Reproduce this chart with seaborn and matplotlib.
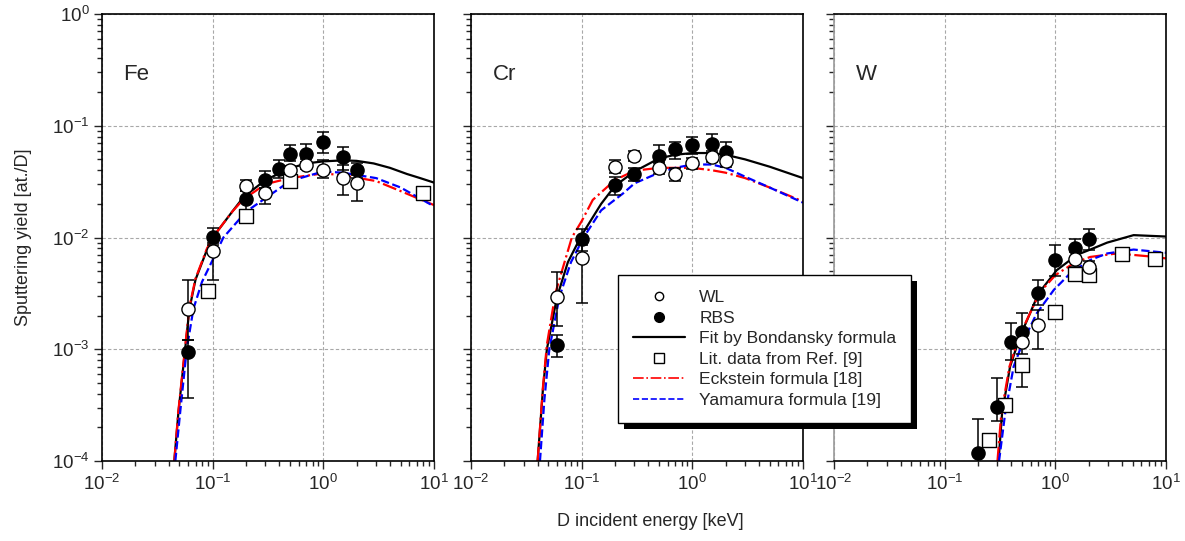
import numpy as np
import pandas as pd
import seaborn as sns
import matplotlib.pyplot as plt
from matplotlib.lines import Line2D
from matplotlib.patches import Rectangle
from matplotlib.ticker import LogLocator, NullFormatter

sns.set_style("ticks")
plt.rcParams["font.family"] = ["Liberation Sans", "DejaVu Sans"]
plt.rcParams["font.size"] = 13

# ---- Fe ----
fe_E_wl = [0.06, 0.1, 0.2, 0.3, 0.5, 0.7, 1.0, 1.5, 2.0]
fe_Y_wl = [2.3e-3, 7.6e-3, 2.9e-2, 2.5e-2, 4.0e-2, 4.5e-2, 4.0e-2, 3.4e-2, 3.05e-2]
fe_lo_wl = [1.2e-3, 4.2e-3, 2.6e-2, 2.0e-2, 3.6e-2, 4.1e-2, 3.4e-2, 2.4e-2, 2.1e-2]
fe_hi_wl = [4.2e-3, 9.0e-3, 3.3e-2, 2.8e-2, 4.4e-2, 5.0e-2, 4.9e-2, 4.5e-2, 3.6e-2]
fe_E_rbs = [0.06, 0.1, 0.2, 0.3, 0.4, 0.5, 0.7, 1.0, 1.5, 2.0]
fe_Y_rbs = [9.4e-4, 1.02e-2, 2.2e-2, 3.3e-2, 4.1e-2, 5.6e-2, 5.6e-2, 7.2e-2, 5.3e-2, 4.0e-2]
fe_lo_rbs = [3.7e-4, 8.5e-3, 1.75e-2, 2.8e-2, 3.4e-2, 4.8e-2, 4.7e-2, 5.7e-2, 4.0e-2, 3.4e-2]
fe_hi_rbs = [1.2e-3, 1.22e-2, 2.6e-2, 3.9e-2, 4.9e-2, 6.7e-2, 6.8e-2, 8.8e-2, 6.4e-2, 4.6e-2]
fe_E_lit = [0.09, 0.2, 0.5, 8.0]
fe_Y_lit = [3.3e-3, 1.56e-2, 3.2e-2, 2.5e-2]
fe_lo_lit = [3.3e-3, 1.56e-2, 3.2e-2, 2.5e-2]
fe_hi_lit = [3.3e-3, 1.56e-2, 3.2e-2, 2.5e-2]
fe_E_fit = [0.045, 0.049, 0.0564, 0.0617, 0.07, 0.0885, 0.1, 0.15, 0.19, 0.3, 0.5, 0.7, 1.0, 1.5, 2.0, 2.85, 4.0, 5.7, 7.5, 10]
fe_Y_fit = [1e-4, 2.7e-4, 1e-3, 2.3e-3, 4.2e-3, 7.7e-3, 1.0e-2, 1.7e-2, 2.3e-2, 3.27e-2, 4.16e-2, 4.6e-2, 4.8e-2, 4.9e-2, 4.85e-2, 4.6e-2, 4.2e-2, 3.7e-2, 3.4e-2, 3.1e-2]
fe_E_eck = [0.045, 0.049, 0.0564, 0.0617, 0.07, 0.0885, 0.1, 0.15, 0.19, 0.3, 0.5, 1.0, 1.5, 3.0, 5.0, 10]
fe_Y_eck = [1e-4, 2.8e-4, 1.05e-3, 2.4e-3, 4.3e-3, 7.9e-3, 1.0e-2, 1.7e-2, 2.2e-2, 3.0e-2, 3.4e-2, 3.75e-2, 3.6e-2, 3.2e-2, 2.6e-2, 1.95e-2]
fe_E_yam = [0.046, 0.0508, 0.0583, 0.067, 0.08, 0.1, 0.125, 0.2, 0.33, 0.5, 1.0, 1.5, 3.0, 5.0, 10]
fe_Y_yam = [1e-4, 2.7e-4, 1e-3, 2.3e-3, 4.0e-3, 6.3e-3, 1e-2, 1.7e-2, 2.4e-2, 3.2e-2, 3.9e-2, 3.8e-2, 3.4e-2, 2.8e-2, 1.9e-2]

# ---- Cr ----
cr_E_wl = [0.06, 0.1, 0.2, 0.3, 0.5, 0.7, 1.0, 1.5, 2.0]
cr_Y_wl = [2.95e-3, 6.5e-3, 4.3e-2, 5.4e-2, 4.2e-2, 3.7e-2, 4.6e-2, 5.3e-2, 4.8e-2]
cr_lo_wl = [1.6e-3, 2.6e-3, 3.8e-2, 4.8e-2, 3.7e-2, 3.2e-2, 4.1e-2, 4.7e-2, 4.3e-2]
cr_hi_wl = [4.9e-3, 8.5e-3, 4.9e-2, 6.0e-2, 4.7e-2, 4.2e-2, 5.1e-2, 5.9e-2, 5.3e-2]
cr_E_rbs = [0.06, 0.1, 0.2, 0.3, 0.5, 0.7, 1.0, 1.5, 2.0]
cr_Y_rbs = [1.09e-3, 9.6e-3, 2.95e-2, 3.7e-2, 5.4e-2, 6.15e-2, 6.7e-2, 6.9e-2, 5.8e-2]
cr_lo_rbs = [8.5e-4, 7.5e-3, 2.4e-2, 3.2e-2, 4.6e-2, 5.0e-2, 5.6e-2, 5.7e-2, 4.6e-2]
cr_hi_rbs = [1.35e-3, 1.2e-2, 3.5e-2, 4.2e-2, 6.7e-2, 7.2e-2, 8.0e-2, 8.4e-2, 7.1e-2]
cr_E_fit = [0.04, 0.0446, 0.0485, 0.0597, 0.075, 0.1, 0.15, 0.2, 0.3, 0.5, 0.7, 1.0, 1.5, 2.0, 3.0, 5.0, 10]
cr_Y_fit = [1e-4, 4.3e-4, 1e-3, 2.9e-3, 6e-3, 1.05e-2, 2.0e-2, 2.9e-2, 3.9e-2, 5.1e-2, 5.5e-2, 5.7e-2, 5.7e-2, 5.5e-2, 5.0e-2, 4.3e-2, 3.4e-2]
cr_E_eck = [0.04, 0.0446, 0.0485, 0.058, 0.0815, 0.1, 0.126, 0.2, 0.3, 0.5, 1.0, 1.5, 2.0, 3.0, 5.0, 10]
cr_Y_eck = [1e-4, 4.5e-4, 1.1e-3, 3.2e-3, 1e-2, 1.4e-2, 2.17e-2, 3.27e-2, 3.96e-2, 4.2e-2, 4.2e-2, 4.0e-2, 3.8e-2, 3.4e-2, 2.8e-2, 2.1e-2]
cr_E_yam = [0.042, 0.046, 0.051, 0.063, 0.08, 0.104, 0.15, 0.239, 0.3, 0.5, 0.7, 1.0, 1.5, 2.0, 3.0, 5.0, 10]
cr_Y_yam = [1e-4, 3.5e-4, 1e-3, 2.95e-3, 6e-3, 1e-2, 1.75e-2, 2.5e-2, 3.05e-2, 3.8e-2, 4.2e-2, 4.5e-2, 4.5e-2, 4.2e-2, 3.5e-2, 2.8e-2, 2.05e-2]

# ---- W ----
w_E_wl = [0.5, 0.7, 1.5, 2.0]
w_Y_wl = [1.15e-3, 1.65e-3, 6.4e-3, 5.4e-3]
w_lo_wl = [9e-4, 1.0e-3, 5.5e-3, 4.6e-3]
w_hi_wl = [1.4e-3, 2.25e-3, 7.4e-3, 6.2e-3]
w_E_rbs = [0.2, 0.3, 0.4, 0.5, 0.7, 1.0, 1.5, 2.0]
w_Y_rbs = [1.17e-4, 3.06e-4, 1.17e-3, 1.44e-3, 3.17e-3, 6.3e-3, 8.0e-3, 9.6e-3]
w_lo_rbs = [5e-5, 2.3e-4, 8e-4, 1.1e-3, 2.5e-3, 4.5e-3, 6.5e-3, 7.7e-3]
w_hi_rbs = [2.36e-4, 5.5e-4, 1.7e-3, 2.1e-3, 4.2e-3, 8.6e-3, 9.6e-3, 1.18e-2]
w_E_lit = [0.25, 0.35, 0.5, 1.0, 1.5, 2.0, 4.0, 8.0]
w_Y_lit = [1.54e-4, 3.2e-4, 7.2e-4, 2.17e-3, 4.7e-3, 4.6e-3, 7.1e-3, 6.4e-3]
w_lo_lit = [1.54e-4, 3.2e-4, 4.6e-4, 2.17e-3, 4.7e-3, 4.6e-3, 7.1e-3, 6.4e-3]
w_hi_lit = [1.54e-4, 3.2e-4, 7.2e-4, 2.17e-3, 4.7e-3, 4.6e-3, 7.1e-3, 6.4e-3]
w_E_fit = [0.307, 0.33, 0.39, 0.48, 0.706, 1.03, 1.57, 2.07, 2.94, 5.1, 10]
w_Y_fit = [1e-4, 2.67e-4, 7e-4, 1.3e-3, 3.17e-3, 5.1e-3, 7.0e-3, 7.8e-3, 9.0e-3, 1.05e-2, 1.02e-2]
w_E_eck = [0.3, 0.325, 0.385, 0.47, 0.7, 0.78, 1.0, 1.47, 2.07, 3.6, 6.8, 10]
w_Y_eck = [1e-4, 2.67e-4, 7e-4, 1.3e-3, 3.0e-3, 3.5e-3, 4.6e-3, 5.9e-3, 6.7e-3, 7.2e-3, 6.8e-3, 6.5e-3]
w_E_yam = [0.31, 0.352, 0.42, 0.516, 0.68, 0.97, 1.37, 2.07, 2.94, 5.1, 10]
w_Y_yam = [1e-4, 2.67e-4, 7e-4, 1.2e-3, 2.1e-3, 3.4e-3, 4.8e-3, 6.3e-3, 7.2e-3, 7.8e-3, 7.3e-3]

panels = [
    ("Fe", fe_E_wl, fe_Y_wl, fe_lo_wl, fe_hi_wl, fe_E_rbs, fe_Y_rbs, fe_lo_rbs, fe_hi_rbs,
     fe_E_lit, fe_Y_lit, fe_lo_lit, fe_hi_lit, fe_E_fit, fe_Y_fit, fe_E_eck, fe_Y_eck, fe_E_yam, fe_Y_yam),
    ("Cr", cr_E_wl, cr_Y_wl, cr_lo_wl, cr_hi_wl, cr_E_rbs, cr_Y_rbs, cr_lo_rbs, cr_hi_rbs,
     [], [], [], [], cr_E_fit, cr_Y_fit, cr_E_eck, cr_Y_eck, cr_E_yam, cr_Y_yam),
    ("W", w_E_wl, w_Y_wl, w_lo_wl, w_hi_wl, w_E_rbs, w_Y_rbs, w_lo_rbs, w_hi_rbs,
     w_E_lit, w_Y_lit, w_lo_lit, w_hi_lit, w_E_fit, w_Y_fit, w_E_eck, w_Y_eck, w_E_yam, w_Y_yam),
]

fig = plt.figure(figsize=(11.85, 5.41), dpi=100)
lefts = [102 / 1185, 471 / 1185, 834 / 1185]
axes = [fig.add_axes([l, 80 / 541, 332 / 1185, 447 / 541]) for l in lefts]


def errbars(ax, E, Y, lo, hi):
    E = np.array(E); Y = np.array(Y)
    ax.errorbar(E, Y, yerr=[Y - np.array(lo), np.array(hi) - Y], fmt="none",
                ecolor="black", elinewidth=1.1, capsize=4, capthick=1.1, zorder=3)


for i, (ax, p) in enumerate(zip(axes, panels)):
    (name, E_wl, Y_wl, lo_wl, hi_wl, E_rbs, Y_rbs, lo_rbs, hi_rbs,
     E_lit, Y_lit, lo_lit, hi_lit, E_fit, Y_fit, E_eck, Y_eck, E_yam, Y_yam) = p
    ax.set_xscale("log")
    ax.set_yscale("log")
    ax.grid(True, which="major", color="#a8a8a8", linestyle=(0, (3, 2)), linewidth=0.8)

    sns.lineplot(x=E_fit, y=Y_fit, color="black", lw=1.6, ax=ax, estimator=None, sort=False, zorder=2)
    sns.lineplot(x=E_eck, y=Y_eck, color="red", lw=1.6, ls="-.", ax=ax, estimator=None, sort=False, zorder=2)
    sns.lineplot(x=E_yam, y=Y_yam, color="blue", lw=1.6, ls="--", ax=ax, estimator=None, sort=False, zorder=2)

    if E_lit:
        errbars(ax, E_lit, Y_lit, lo_lit, hi_lit)
        sns.scatterplot(x=E_lit, y=Y_lit, marker="s", s=90, facecolor="white",
                        edgecolor="black", linewidth=1, ax=ax, zorder=4)
    errbars(ax, E_rbs, Y_rbs, lo_rbs, hi_rbs)
    errbars(ax, E_wl, Y_wl, lo_wl, hi_wl)
    sns.scatterplot(x=E_rbs, y=Y_rbs, marker="o", s=90, color="black",
                    edgecolor="black", linewidth=1, ax=ax, zorder=5)
    sns.scatterplot(x=E_wl, y=Y_wl, marker="o", s=90, facecolor="white",
                    edgecolor="black", linewidth=1, ax=ax, zorder=6)

    ax.set_xlim(1e-2, 1e1)
    ax.set_ylim(1e-4, 1e0)
    ax.xaxis.set_major_locator(LogLocator(base=10, numticks=10))
    ax.xaxis.set_minor_locator(LogLocator(base=10, subs=np.arange(2, 10), numticks=20))
    ax.xaxis.set_minor_formatter(NullFormatter())
    ax.yaxis.set_major_locator(LogLocator(base=10, numticks=10))
    ax.yaxis.set_minor_locator(LogLocator(base=10, subs=np.arange(2, 10), numticks=20))
    ax.yaxis.set_minor_formatter(NullFormatter())
    ax.tick_params(which="major", direction="out", length=6, width=1, labelsize=13.5, pad=3)
    ax.tick_params(which="minor", direction="out", length=3.5, width=1)
    for s in ax.spines.values():
        s.set_linewidth(1.2)
        s.set_color("black")
    if i > 0:
        ax.tick_params(axis="y", labelleft=False)
    if i == 2:
        ax.spines["left"].set_color("#9a9a9a")
    ax.text(0.065, 0.865, name, transform=ax.transAxes, fontsize=16, va="center", ha="left")
    ax.set_xlabel("")

axes[0].set_ylabel("Sputtering yield [at./D]", fontsize=13, labelpad=14)
fig.text(650 / 1185, 1 - 521 / 541, "D incident energy [keV]", ha="center", va="center", fontsize=13)

handles = [
    Line2D([], [], ls="none", marker="o", ms=6, mfc="white", mec="black", mew=1),
    Line2D([], [], ls="none", marker="o", ms=7, mfc="black", mec="black"),
    Line2D([], [], color="black", lw=1.6),
    Line2D([], [], ls="none", marker="s", ms=7, mfc="white", mec="black", mew=1),
    Line2D([], [], color="red", lw=1.2, ls="-."),
    Line2D([], [], color="blue", lw=1.2, ls="--"),
]
labels = ["WL", "RBS", "Fit by Bondansky formula", "Lit. data from Ref. [9]",
          "Eckstein formula [18]", "Yamamura formula [19]"]
leg = fig.legend(handles, labels, loc="upper left", bbox_to_anchor=(618 / 1185, 1 - 275 / 541),
                 fontsize=12.6, frameon=True, fancybox=False, edgecolor="black", framealpha=1,
                 handlelength=3.0, handletextpad=0.8, labelspacing=0.3, borderpad=0.85,
                 borderaxespad=0)
leg.get_frame().set_linewidth(1.0)
leg.set_zorder(20)

# heavy black drop shadow behind the legend box
fig.canvas.draw()
bb = leg.get_window_extent()
fig.patches.append(Rectangle((bb.x0 + 6, bb.y0 - 6), bb.width, bb.height, transform=None,
                             facecolor="black", edgecolor="none", zorder=19))

plt.savefig("out.png", dpi=100)
